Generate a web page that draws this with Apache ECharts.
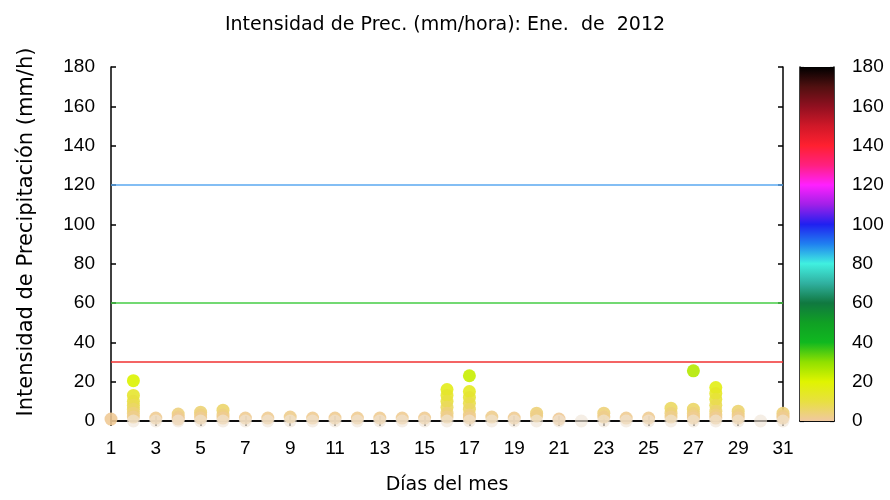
<!DOCTYPE html>
<html><head><meta charset="utf-8">
<script src="https://cdn.jsdelivr.net/npm/echarts@6/dist/echarts.min.js"></script>
<style>html,body{margin:0;padding:0;background:#fff}#c{width:890px;height:500px}</style>
</head><body><div id="c"></div>
<script>
// ---- data ----
const days = ['1','2','3','4','5','6','7','8','9','10','11','12','13','14','15','16','17','18','19','20','21','22','23','24','25','26','27','28','29','30','31'];
// non-zero hourly intensities (mm/h) read per day
const dayValues = [
  [1], [20.5,13,10,8,6,4,2], [1.5], [3.5,2,1], [4.5,3,1.5], [5.5,3,1.5],
  [1.5], [1.5], [2], [1.5], [1.5], [1.5], [1.5], [1.5], [1.5],
  [16,13,10,7,4,2], [23,15,12,9,6,3,1.5], [2], [1.5], [4,2.5], [1],
  [], [4,2], [1.5], [1.5], [6.5,4,2], [25.5,6,4,2.5,1.5],
  [17,14,11,8,5,3,1.5], [5,3,1.5], [], [4,2.5,1.5]
];
// days having zero-intensity hours
const zeroDays = ['2','3','4','5','6','7','8','9','10','11','12','13','14','15','16','17','18','19','20','21','22','23','24','25','26','27','28','29','30','31'];
const refLineValues = [30, 60, 120];
const refLineColors = ['#f03030', '#44cc44', '#5aa8f0'];
const scaleStops = [0,10,20,30,40,50,60,70,80,90,100,110,120,130,140,150,160,170,180];
const scaleColors = ['#f0c8a0','#e8e040','#e0f400','#90e000','#10b820','#10a024','#107840','#30b0a0','#40f0e0','#2080f0','#2020f0','#a020e8','#ff20ff','#ff2080','#ff2030','#d01828','#901020','#501010','#000000'];

// ---- build ----
const points = [];
days.forEach((d, i) => dayValues[i].forEach(v => points.push([d, v])));
const zeroPts = zeroDays.map(d => [d, 0]);
const FONT = 'Liberation Sans';
const TFONT = 'DejaVu Sans';
const axisLine = {show: true, lineStyle: {color: '#000', width: 1.5}};
const tick = {show: true, inside: true, length: 5, lineStyle: {color: '#000', width: 1.5}};
const cbTick = {show: true, inside: true, length: 4, lineStyle: {color: '#000', width: 1.2}};

const chart = echarts.init(document.getElementById('c'), null, {renderer: 'canvas'});
const lineSeries = refLineValues.map((v, k) => ({
  type: 'line', xAxisIndex: 0, yAxisIndex: 0, data: [[days[0], v], [days[days.length-1], v]],
  symbol: 'none', lineStyle: {color: refLineColors[k], width: 1.5}, z: 1, silent: true
}));
chart.setOption({
  animation: false,
  textStyle: {fontFamily: FONT},
  title: {text: 'Intensidad de Prec. (mm/hora): Ene.  de  2012', left: 'center', top: 11,
    textStyle: {fontFamily: TFONT, fontSize: 19, fontWeight: 'normal', color: '#000'}},
  grid: [
    {left: 111, top: 67, width: 672, height: 354},
    {left: 800, top: 67, width: 34, height: 354}
  ],
  visualMap: {type: 'continuous', show: false, min: 0, max: 180, seriesIndex: lineSeries.length,
    inRange: {color: scaleColors}},
  xAxis: [
    {gridIndex: 0, type: 'category', data: days, boundaryGap: false, position: 'bottom',
      axisLine, axisTick: Object.assign({interval: 1}, tick),
      axisLabel: {interval: 1, fontSize: 19, color: '#000', margin: 18, fontFamily: FONT},
      splitLine: {show: false},
      name: 'Días del mes', nameLocation: 'middle', nameGap: 55,
      nameTextStyle: {fontSize: 19, color: '#000', fontFamily: TFONT}},
    {gridIndex: 0, type: 'category', data: days, boundaryGap: false, position: 'top',
      axisLine, axisTick: Object.assign({interval: 1}, tick), axisLabel: {show: false}, splitLine: {show: false}},
    {gridIndex: 1, type: 'category', data: ['cb'], position: 'bottom', axisLine,
      axisTick: {show: false}, axisLabel: {show: false}},
    {gridIndex: 1, type: 'category', data: ['cb'], position: 'top', axisLine,
      axisTick: {show: false}, axisLabel: {show: false}}
  ],
  yAxis: [
    {gridIndex: 0, type: 'value', min: 0, max: 180, interval: 20, position: 'left',
      axisLine, axisTick: tick, splitLine: {show: false},
      axisLabel: {fontSize: 19, color: '#000', margin: 16, fontFamily: FONT},
      name: 'Intensidad de Precipitación (mm/h)', nameLocation: 'middle', nameGap: 74, nameRotate: 90,
      nameTextStyle: {fontSize: 21, color: '#000', fontFamily: TFONT, padding: [0, 0, 0, 24]}},
    {gridIndex: 0, type: 'value', min: 0, max: 180, interval: 20, position: 'right',
      axisLine, axisTick: tick, splitLine: {show: false}, axisLabel: {show: false}},
    {gridIndex: 1, type: 'value', min: 0, max: 180, interval: 20, position: 'left',
      axisLine, axisTick: cbTick, splitLine: {show: false}, axisLabel: {show: false}},
    {gridIndex: 1, type: 'value', min: 0, max: 180, interval: 20, position: 'right',
      axisLine, axisTick: cbTick, splitLine: {show: false},
      axisLabel: {fontSize: 19, color: '#000', margin: 18, fontFamily: FONT}}
  ],
  series: lineSeries.concat([
    {type: 'scatter', xAxisIndex: 0, yAxisIndex: 0, data: points, symbol: 'circle', symbolSize: 13,
      itemStyle: {opacity: 0.9}, clip: false, z: 3},
    {type: 'scatter', xAxisIndex: 0, yAxisIndex: 0, data: zeroPts, symbol: 'circle', symbolSize: 13,
      itemStyle: {color: 'rgba(240,228,214,0.8)'}, clip: false, z: 4},
    {type: 'bar', xAxisIndex: 2, yAxisIndex: 2, data: [180], barWidth: '100%', silent: true,
      itemStyle: {color: new echarts.graphic.LinearGradient(0, 1, 0, 0,
        scaleStops.map((s, k) => ({offset: s / 180, color: scaleColors[k]})))}, z: 1}
  ])
});
</script>
</body></html>
